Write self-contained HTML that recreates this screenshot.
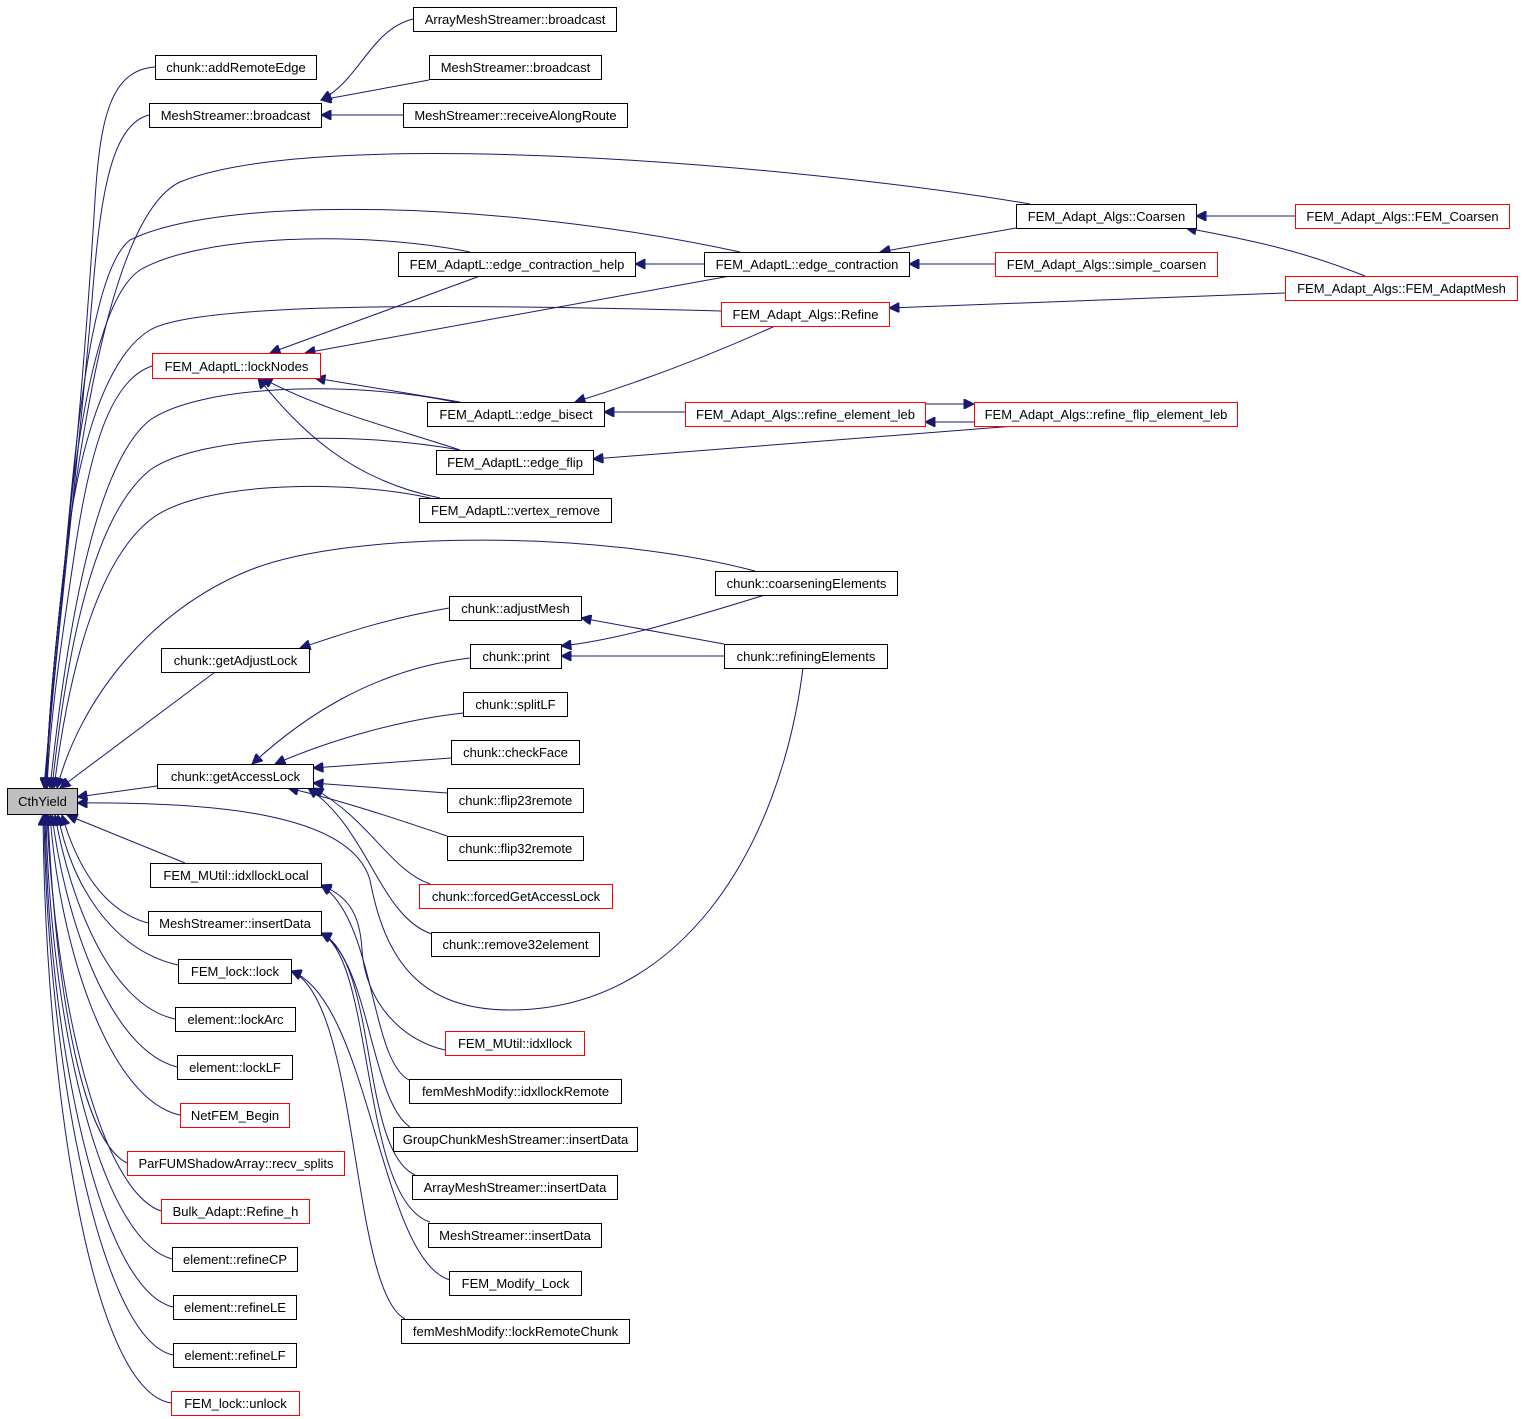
<!DOCTYPE html>
<html><head><meta charset="utf-8"><style>
html,body{margin:0;padding:0;background:#fff;}
svg{display:block;}
text{font-family:"Liberation Sans",sans-serif;font-size:13px;fill:#000;}
.e{fill:none;stroke:#191970;stroke-width:1;}
.n{fill:#fff;stroke:#000;stroke-width:1;}
.r{fill:#fff;stroke:#f00;stroke-width:1;}
</style></head><body>
<svg width="1523" height="1419" viewBox="0 0 1523 1419" xmlns="http://www.w3.org/2000/svg">
<defs><marker id="a" viewBox="0 0 10 10" refX="10" refY="5" markerWidth="14" markerHeight="10" markerUnits="userSpaceOnUse" orient="auto"><path d="M0,0 L10,5 L0,10 z" fill="#191970" stroke="#191970"/></marker></defs>
<g class="e" marker-end="url(#a)">
<path d="M155,67 C110,70 100,120 95,200 C80,450 55,650 44,788"/>
<path d="M149,115 C110,125 100,200 92,300 C75,500 55,650 45,788"/>
<path d="M152,366 C110,380 90,450 75,550 C60,650 50,720 47,788"/>
<path d="M215,672 L60,788"/>
<path d="M157,786 L77,797"/>
<path d="M1030,204 C800,165 320,125 180,182 C110,215 80,450 65,560 C55,650 48,720 46,788"/>
<path d="M740,252 C500,200 220,195 130,240 C90,270 75,450 65,560 C55,650 48,720 46,788"/>
<path d="M470,252 C360,230 200,235 140,270 C95,300 75,450 65,560 C55,650 48,720 46,788"/>
<path d="M721,311 C500,305 200,300 150,330 C100,360 75,470 65,560 C55,650 48,720 47,788"/>
<path d="M455,402 C350,380 200,385 150,420 C100,460 70,600 50,788"/>
<path d="M460,450 C350,430 200,435 150,470 C100,510 70,620 52,788"/>
<path d="M430,498 C350,480 200,480 150,520 C100,560 70,660 54,788"/>
<path d="M755,571 C600,530 350,530 250,570 C150,610 80,700 57,788"/>
<path d="M803,668 C780,850 680,1010 510,1010 C420,1010 385,960 370,880 C350,810 200,802 77,803"/>
<path d="M185,863 L67,815"/>
<path d="M148,923 C100,910 75,860 62,815"/>
<path d="M178,965 C110,950 70,880 58,815"/>
<path d="M175,1019 C110,1005 70,900 55,815"/>
<path d="M177,1067 C110,1050 65,920 52,815"/>
<path d="M180,1115 C110,1100 60,950 50,815"/>
<path d="M127,1163 C80,1140 55,980 48,815"/>
<path d="M161,1211 C100,1190 55,1000 47,815"/>
<path d="M172,1259 C100,1240 50,1020 46,815"/>
<path d="M173,1307 C100,1290 48,1040 45,815"/>
<path d="M173,1355 C100,1340 47,1060 44,815"/>
<path d="M171,1403 C90,1390 45,1080 43,815"/>
<path d="M413,19 C370,30 360,80 321,100"/>
<path d="M429,80 L321,100"/>
<path d="M403,115 L321,115"/>
<path d="M1295,216 L1196,216"/>
<path d="M1365,276 C1300,250 1250,240 1186,228"/>
<path d="M1285,293 L889,308"/>
<path d="M995,264 L909,264"/>
<path d="M1016,228 L880,252"/>
<path d="M704,264 L635,264"/>
<path d="M480,276 L270,353"/>
<path d="M730,276 L305,353"/>
<path d="M775,326 C700,360 630,385 575,402"/>
<path d="M460,402 L315,378"/>
<path d="M460,450 C400,430 320,410 262,378"/>
<path d="M440,498 C350,480 300,430 258,378"/>
<path d="M685,412 L604,412"/>
<path d="M925,404 L974,404"/>
<path d="M974,422 L925,422"/>
<path d="M1015,426 L593,459"/>
<path d="M449,608 C380,620 340,635 300,648"/>
<path d="M724,644 L581,618"/>
<path d="M765,595 C700,615 620,640 561,646"/>
<path d="M724,656 L561,656"/>
<path d="M470,658 C370,670 300,720 252,764"/>
<path d="M463,713 C400,720 330,740 275,764"/>
<path d="M451,758 L313,768"/>
<path d="M447,793 L313,783"/>
<path d="M447,836 C400,820 340,800 288,788"/>
<path d="M430,884 C390,870 370,820 313,788"/>
<path d="M435,935 C380,920 370,830 308,788"/>
<path d="M445,1050 C400,1040 365,1000 362,950 C360,910 345,895 321,885"/>
<path d="M409,1080 C370,1060 375,920 321,885"/>
<path d="M410,1127 C370,1100 370,960 321,933"/>
<path d="M415,1175 C360,1150 378,960 321,933"/>
<path d="M430,1222 C360,1200 375,960 321,933"/>
<path d="M450,1280 C380,1260 370,1000 291,971"/>
<path d="M405,1319 C350,1290 360,1000 291,971"/>
</g>
<g>
<rect x="7.5" y="788.5" width="70" height="26" fill="#bfbfbf" stroke="#000"/><text x="42.5" y="806" text-anchor="middle">CthYield</text>
</g>
<g text-anchor="middle">
<rect class="n" x="155.5" y="55.5" width="161" height="24"/><text x="236" y="72">chunk::addRemoteEdge</text>
<rect class="n" x="149.5" y="103.5" width="172" height="24"/><text x="235.5" y="120">MeshStreamer::broadcast</text>
<rect class="n" x="413.5" y="7.5" width="203" height="24"/><text x="515" y="24">ArrayMeshStreamer::broadcast</text>
<rect class="n" x="429.5" y="55.5" width="172" height="24"/><text x="515.5" y="72">MeshStreamer::broadcast</text>
<rect class="n" x="403.5" y="103.5" width="224" height="24"/><text x="515.5" y="120">MeshStreamer::receiveAlongRoute</text>
<rect class="n" x="1016.5" y="204.5" width="180" height="24"/><text x="1106.5" y="221">FEM_Adapt_Algs::Coarsen</text>
<rect class="r" x="1295.5" y="204.5" width="214" height="24"/><text x="1402.5" y="221">FEM_Adapt_Algs::FEM_Coarsen</text>
<rect class="n" x="398.5" y="252.5" width="237" height="24"/><text x="517" y="269">FEM_AdaptL::edge_contraction_help</text>
<rect class="n" x="704.5" y="252.5" width="205" height="24"/><text x="807" y="269">FEM_AdaptL::edge_contraction</text>
<rect class="r" x="995.5" y="252.5" width="222" height="24"/><text x="1106.5" y="269">FEM_Adapt_Algs::simple_coarsen</text>
<rect class="r" x="1285.5" y="276.5" width="232" height="24"/><text x="1401.5" y="293">FEM_Adapt_Algs::FEM_AdaptMesh</text>
<rect class="r" x="721.5" y="302.5" width="168" height="24"/><text x="805.5" y="319">FEM_Adapt_Algs::Refine</text>
<rect class="r" x="152.5" y="353.5" width="168" height="25"/><text x="236.5" y="371">FEM_AdaptL::lockNodes</text>
<rect class="n" x="427.5" y="402.5" width="177" height="24"/><text x="516" y="419">FEM_AdaptL::edge_bisect</text>
<rect class="r" x="685.5" y="402.5" width="240" height="24"/><text x="805.5" y="419">FEM_Adapt_Algs::refine_element_leb</text>
<rect class="r" x="974.5" y="402.5" width="263" height="24"/><text x="1106" y="419">FEM_Adapt_Algs::refine_flip_element_leb</text>
<rect class="n" x="436.5" y="450.5" width="157" height="24"/><text x="515" y="467">FEM_AdaptL::edge_flip</text>
<rect class="n" x="419.5" y="498.5" width="192" height="24"/><text x="515.5" y="515">FEM_AdaptL::vertex_remove</text>
<rect class="n" x="715.5" y="571.5" width="182" height="24"/><text x="806.5" y="588">chunk::coarseningElements</text>
<rect class="n" x="449.5" y="596.5" width="132" height="24"/><text x="515.5" y="613">chunk::adjustMesh</text>
<rect class="n" x="161.5" y="648.5" width="148" height="24"/><text x="235.5" y="665">chunk::getAdjustLock</text>
<rect class="n" x="470.5" y="644.5" width="91" height="24"/><text x="516" y="661">chunk::print</text>
<rect class="n" x="724.5" y="644.5" width="163" height="24"/><text x="806" y="661">chunk::refiningElements</text>
<rect class="n" x="463.5" y="692.5" width="104" height="24"/><text x="515.5" y="709">chunk::splitLF</text>
<rect class="n" x="451.5" y="740.5" width="128" height="24"/><text x="515.5" y="757">chunk::checkFace</text>
<rect class="n" x="157.5" y="764.5" width="156" height="24"/><text x="235.5" y="781">chunk::getAccessLock</text>
<rect class="n" x="447.5" y="788.5" width="136" height="24"/><text x="515.5" y="805">chunk::flip23remote</text>
<rect class="n" x="447.5" y="836.5" width="136" height="24"/><text x="515.5" y="853">chunk::flip32remote</text>
<rect class="r" x="419.5" y="884.5" width="193" height="24"/><text x="516" y="901">chunk::forcedGetAccessLock</text>
<rect class="n" x="150.5" y="863.5" width="171" height="24"/><text x="236" y="880">FEM_MUtil::idxllockLocal</text>
<rect class="n" x="148.5" y="911.5" width="173" height="24"/><text x="235" y="928">MeshStreamer::insertData</text>
<rect class="n" x="431.5" y="932.5" width="168" height="24"/><text x="515.5" y="949">chunk::remove32element</text>
<rect class="n" x="178.5" y="959.5" width="113" height="24"/><text x="235" y="976">FEM_lock::lock</text>
<rect class="n" x="175.5" y="1007.5" width="120" height="24"/><text x="235.5" y="1024">element::lockArc</text>
<rect class="r" x="445.5" y="1031.5" width="139" height="24"/><text x="515" y="1048">FEM_MUtil::idxllock</text>
<rect class="n" x="177.5" y="1055.5" width="115" height="24"/><text x="235" y="1072">element::lockLF</text>
<rect class="n" x="409.5" y="1079.5" width="212" height="24"/><text x="515.5" y="1096">femMeshModify::idxllockRemote</text>
<rect class="r" x="180.5" y="1103.5" width="109" height="24"/><text x="235" y="1120">NetFEM_Begin</text>
<rect class="n" x="393.5" y="1127.5" width="244" height="24"/><text x="515.5" y="1144">GroupChunkMeshStreamer::insertData</text>
<rect class="r" x="127.5" y="1151.5" width="217" height="24"/><text x="236" y="1168">ParFUMShadowArray::recv_splits</text>
<rect class="n" x="412.5" y="1175.5" width="205" height="24"/><text x="515" y="1192">ArrayMeshStreamer::insertData</text>
<rect class="r" x="161.5" y="1199.5" width="148" height="24"/><text x="235.5" y="1216">Bulk_Adapt::Refine_h</text>
<rect class="n" x="428.5" y="1223.5" width="173" height="24"/><text x="515" y="1240">MeshStreamer::insertData</text>
<rect class="n" x="172.5" y="1247.5" width="125" height="24"/><text x="235" y="1264">element::refineCP</text>
<rect class="n" x="449.5" y="1271.5" width="132" height="24"/><text x="515.5" y="1288">FEM_Modify_Lock</text>
<rect class="n" x="173.5" y="1295.5" width="123" height="24"/><text x="235" y="1312">element::refineLE</text>
<rect class="n" x="401.5" y="1319.5" width="228" height="24"/><text x="515.5" y="1336">femMeshModify::lockRemoteChunk</text>
<rect class="n" x="173.5" y="1343.5" width="123" height="24"/><text x="235" y="1360">element::refineLF</text>
<rect class="r" x="171.5" y="1391.5" width="128" height="24"/><text x="235.5" y="1408">FEM_lock::unlock</text>
</g>
</svg>
</body></html>
